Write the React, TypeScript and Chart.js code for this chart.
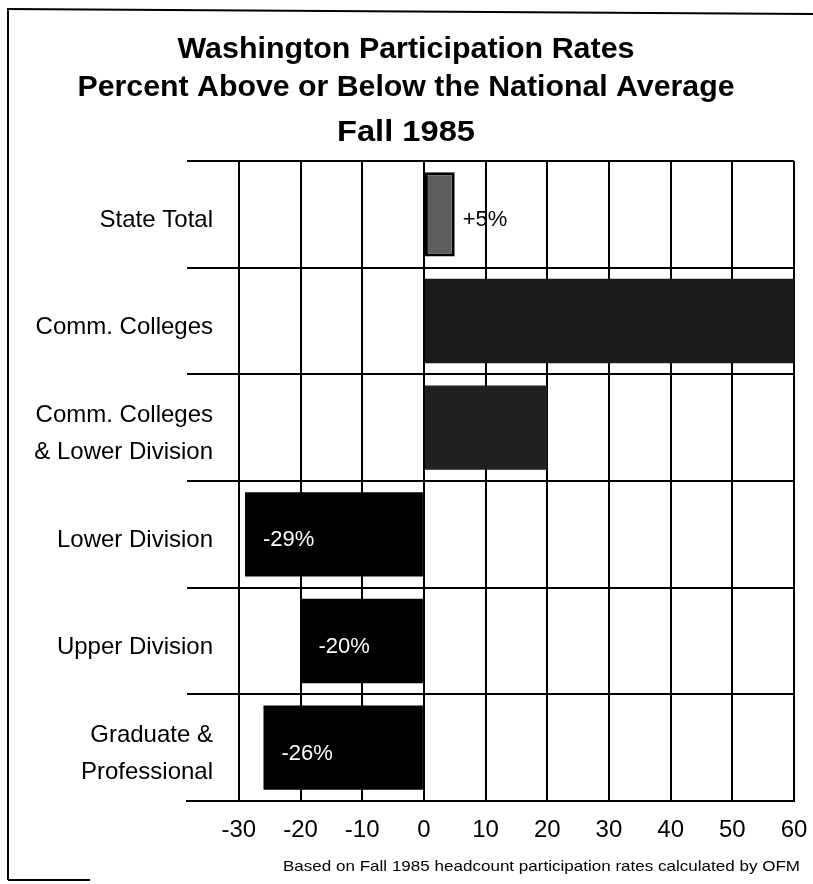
import React, { useEffect, useRef } from "react";
import { Chart, registerables } from "chart.js";

Chart.register(...registerables);

// ---- data ----
const categories: string[][] = [
  ["State Total"],
  ["Comm. Colleges"],
  ["Comm. Colleges", "& Lower Division"],
  ["Lower Division"],
  ["Upper Division"],
  ["Graduate &", "Professional"],
];
const values: number[] = [5, 60, 20, -29, -20, -26];
const valueLabels: string[] = ["+5%", "", "", "-29%", "-20%", "-26%"];
const barColors: string[] = ["#5e5e5e", "#1a1a1a", "#202020", "#000000", "#000000", "#000000"];
const barBorders: number[] = [3, 0, 0, 0, 0, 0];
const tickValues: number[] = [-30, -20, -10, 0, 10, 20, 30, 40, 50, 60];
const titleLines: string[] = [
  "Washington Participation Rates",
  "Percent Above or Below the National Average",
  "Fall 1985",
];
const footnote = "Based on Fall 1985 headcount participation rates calculated by OFM";

const FONT = '"Liberation Sans", Arial, Helvetica, sans-serif';

function fittedText(
  ctx: CanvasRenderingContext2D,
  text: string,
  x: number,
  y: number,
  width: number,
  align: "center" | "right" | "left"
) {
  const w = ctx.measureText(text).width;
  const sx = width / w;
  ctx.save();
  ctx.textAlign = "left";
  let left = x;
  if (align === "center") left = x - width / 2;
  else if (align === "right") left = x - width;
  ctx.translate(left, y);
  ctx.scale(sx, 1);
  ctx.fillText(text, 0, 0);
  ctx.restore();
}

const decorPlugin = {
  id: "decor",
  afterDraw(chart: any) {
    const ctx: CanvasRenderingContext2D = chart.ctx;
    const yScale = chart.scales.y;
    ctx.save();

    // frame
    ctx.strokeStyle = "#000";
    ctx.lineWidth = 2;
    ctx.beginPath();
    ctx.moveTo(7, 9);
    ctx.lineTo(813, 14);
    ctx.moveTo(8, 9);
    ctx.lineTo(8, 880);
    ctx.moveTo(8, 880);
    ctx.lineTo(90, 880);
    ctx.stroke();

    // title
    ctx.fillStyle = "#000";
    ctx.textBaseline = "alphabetic";
    ctx.font = `bold 29px ${FONT}`;
    const titleBase = [58, 96, 141];
    const titleWidths = [457, 657, 138];
    titleLines.forEach((t, i) => fittedText(ctx, t, 406, titleBase[i], titleWidths[i], "center"));

    // category labels
    ctx.font = `24px ${FONT}`;
    ctx.textAlign = "right";
    categories.forEach((lines, i) => {
      const c = yScale.getPixelForValue(i);
      const lh = 37;
      const start = c + 13 - ((lines.length - 1) * lh) / 2;
      lines.forEach((ln, j) => {
        ctx.fillText(ln, 213, start + j * lh);
      });
    });

    // value labels
    const meta = chart.getDatasetMeta(0);
    ctx.font = `22px ${FONT}`;
    meta.data.forEach((el: any, i: number) => {
      const lab = valueLabels[i];
      if (!lab) return;
      const v = values[i];
      const yb = el.y + 12;
      if (v >= 0) {
        ctx.fillStyle = "#000";
        ctx.textAlign = "left";
        ctx.fillText(lab, Math.max(el.x, el.base) + 8, yb);
      } else {
        ctx.fillStyle = "#fff";
        ctx.textAlign = "left";
        ctx.fillText(lab, Math.min(el.x, el.base) + 18, yb);
      }
    });

    // footnote
    ctx.fillStyle = "#000";
    ctx.font = `15px ${FONT}`;
    fittedText(ctx, footnote, 800, 871, 517, "right");

    ctx.restore();
  },
};

export default function App() {
  const canvasRef = useRef<HTMLCanvasElement | null>(null);

  useEffect(() => {
    const canvas = canvasRef.current;
    if (!canvas) return;
    const chart = new Chart(canvas, {
      type: "bar",
      data: {
        labels: categories.map((c) => c.join(" ")),
        datasets: [
          {
            data: values,
            backgroundColor: barColors,
            borderColor: "#000",
            borderWidth: barBorders,
            borderSkipped: false,
            barPercentage: 0.79,
            categoryPercentage: 1,
          },
        ],
      },
      options: {
        indexAxis: "y",
        responsive: false,
        animation: false,
        devicePixelRatio: 1,
        layout: { padding: { left: 0, right: 19, top: 161, bottom: 33 } },
        plugins: {
          legend: { display: false },
          title: { display: false },
          tooltip: { enabled: false },
        },
        scales: {
          x: {
            type: "linear",
            min: -38.4,
            max: 60,
            afterFit: (s: any) => {
              s.height = 50;
              s.paddingLeft = 0;
              s.paddingRight = 0;
            },
            afterBuildTicks: (s: any) => {
              s.ticks = tickValues.map((v) => ({ value: v }));
            },
            ticks: {
              color: "#000",
              font: { family: FONT, size: 24 },
              padding: 15,
              maxRotation: 0,
              autoSkip: false,
            },
            grid: { color: "#000", lineWidth: 2, drawTicks: false },
            border: { display: true, color: "#000", width: 2 },
          },
          y: {
            type: "category",
            afterFit: (s: any) => {
              s.width = 187;
            },
            ticks: { display: false },
            grid: { color: "#000", lineWidth: 2, drawTicks: false, offset: true },
            border: { display: false },
          },
        },
      },
      plugins: [decorPlugin],
    });
    return () => chart.destroy();
  }, []);

  return (
    <div style={{ position: "absolute", left: 0, top: 0, width: 813, height: 884, background: "#fff" }}>
      <canvas ref={canvasRef} width={813} height={884} style={{ display: "block" }} />
    </div>
  );
}
